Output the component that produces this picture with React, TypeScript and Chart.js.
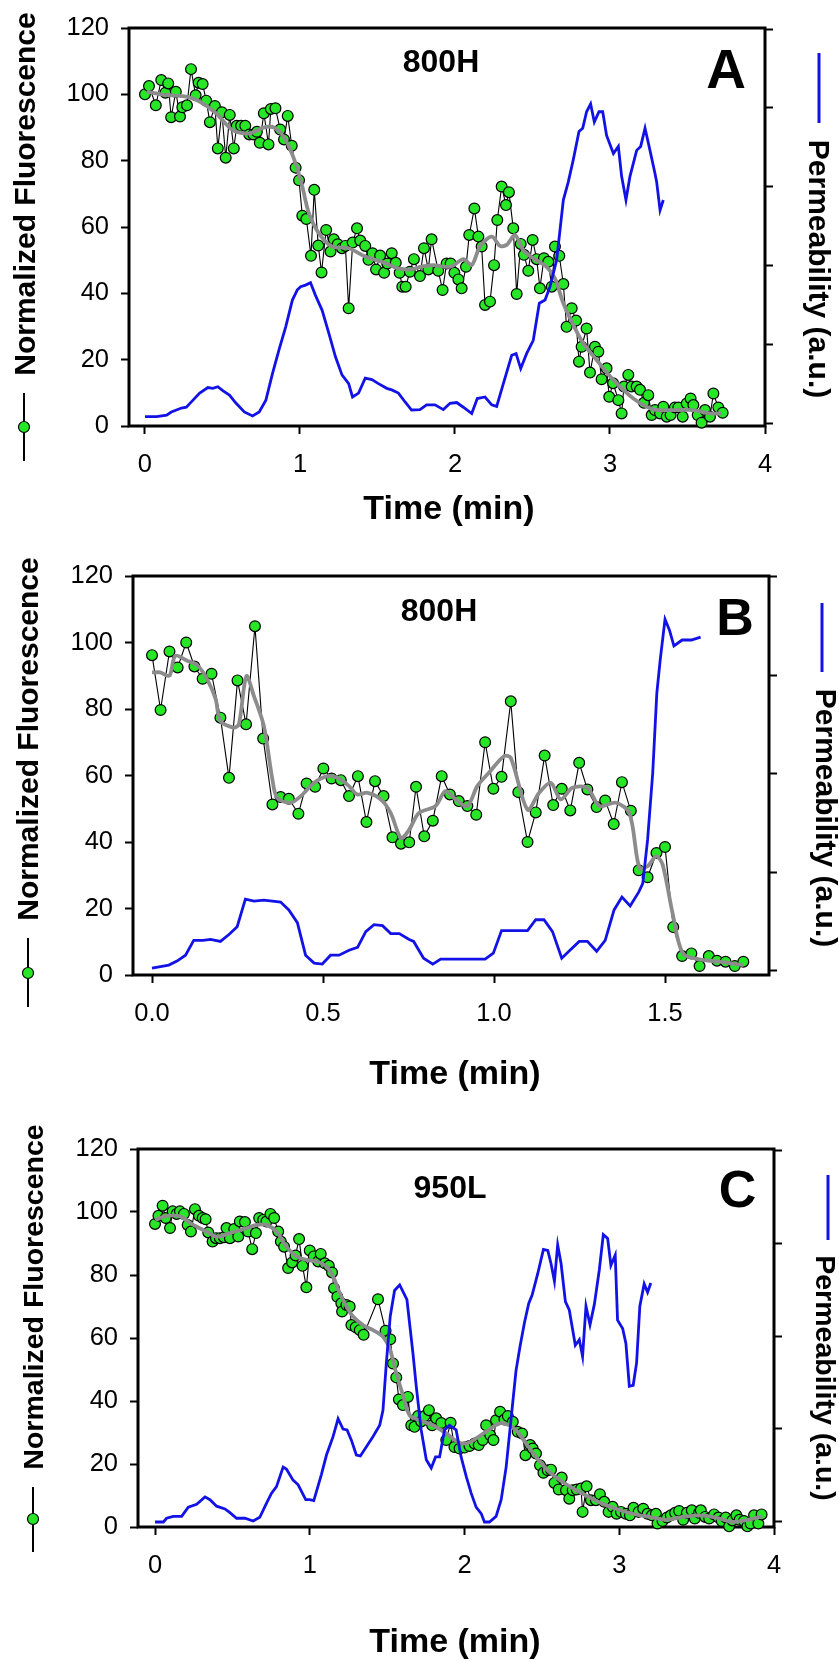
import React, { useEffect, useRef } from 'react';
import { Chart, registerables } from 'chart.js';

Chart.register(...registerables);

type Pt = [number, number];

const FONT = '"Liberation Sans", Arial, Helvetica, sans-serif';
const GREEN = '#26e626';
const GREY = '#8c8c8c';
const BLUE = '#1212e6';

// ---------- tick values / labels ----------
const yLeftTicks = [0, 20, 40, 60, 80, 100, 120];
const xTicksAC = [0, 1, 2, 3, 4];
const xLabelsAC = ['0', '1', '2', '3', '4'];
const xTicksB = [0, 0.5, 1, 1.5];
const xLabelsB = ['0.0', '0.5', '1.0', '1.5'];
const y2TicksA = [0, 1, 2, 3, 4, 5];
const y2TicksBC = [0, 1, 2, 3, 4];

// ---------- Panel A (800H) ----------
const fluorA: Pt[] = [[0,100],[0.026,102.5],[0.07,96.7],[0.105,104.3],[0.132,100.5],[0.15,103.3],[0.169,93.1],[0.199,100.8],[0.226,93.3],[0.241,96.1],[0.271,96.7],[0.297,107.6],[0.327,99.7],[0.346,103.5],[0.372,103.1],[0.395,98.1],[0.419,91.6],[0.451,96.5],[0.47,83.7],[0.496,94.6],[0.521,80.9],[0.547,93.8],[0.573,83.7],[0.592,90.5],[0.62,90.5],[0.647,90.5],[0.673,87.9],[0.699,87.9],[0.722,88.7],[0.741,85.4],[0.767,94.3],[0.797,84.9],[0.812,95.6],[0.842,95.8],[0.872,89.4],[0.897,86.4],[0.921,93.5],[0.947,84.5],[0.972,77.9],[0.994,74.1],[1.015,63.4],[1.041,62.4],[1.071,51.3],[1.092,71.2],[1.118,54.4],[1.139,46.3],[1.169,59.1],[1.197,52.6],[1.218,56.3],[1.244,54.8],[1.271,53.6],[1.293,54.3],[1.314,35.5],[1.34,55.3],[1.368,59.6],[1.389,55.9],[1.421,54.3],[1.442,50.1],[1.468,52.1],[1.491,47.2],[1.517,51.4],[1.543,46.2],[1.564,49],[1.592,52.1],[1.618,49.2],[1.643,46.2],[1.66,42],[1.682,42],[1.709,46.5],[1.735,50.3],[1.774,45.2],[1.8,53.6],[1.828,47.2],[1.849,56.3],[1.892,46.8],[1.92,41],[1.946,49],[1.972,49],[1.996,46.2],[2.022,44.2],[2.043,41.5],[2.071,48],[2.092,57.6],[2.125,65.6],[2.151,57.1],[2.172,54.1],[2.194,36.5],[2.226,37.5],[2.252,48.5],[2.273,62.1],[2.301,72.2],[2.329,66.6],[2.348,70.5],[2.376,59.6],[2.398,39.8],[2.424,54.9],[2.445,51.6],[2.473,46.8],[2.501,56.1],[2.527,50.3],[2.548,41.5],[2.574,50.6],[2.602,49.5],[2.624,42],[2.645,54.1],[2.673,51.3],[2.699,42.8],[2.72,29.9],[2.753,35.5],[2.781,31.8],[2.8,19.4],[2.817,23.9],[2.849,29.4],[2.871,16.1],[2.903,23.9],[2.925,22.4],[2.946,14.1],[2.978,17.4],[2.995,8.8],[3.02,12.9],[3.054,7.8],[3.075,3.8],[3.09,11.9],[3.118,15.4],[3.14,11.9],[3.172,11.9],[3.194,10.9],[3.219,7],[3.247,9.3],[3.269,3.3],[3.29,4.8],[3.323,3.8],[3.344,5.8],[3.366,2.8],[3.391,3.3],[3.419,5.6],[3.441,5.6],[3.469,2.8],[3.495,6.8],[3.52,8.3],[3.538,6.3],[3.566,3.3],[3.591,1],[3.613,4.8],[3.645,2.8],[3.667,9.8],[3.699,5.6],[3.727,4]];
const smoothA: Pt[] = [[0.011,100.8],[0.139,99.8],[0.267,99.3],[0.353,97.8],[0.459,94.3],[0.566,89.2],[0.673,88.2],[0.78,90.2],[0.844,89.7],[0.908,86.2],[0.972,79.2],[1.015,72.2],[1.058,64.1],[1.122,58.1],[1.207,54.1],[1.314,53.6],[1.421,51.1],[1.528,49.5],[1.635,47.5],[1.72,47.2],[1.774,48],[1.86,48.5],[1.968,48],[2.054,50.3],[2.108,48.5],[2.161,54.1],[2.237,57.1],[2.29,54.3],[2.333,54.6],[2.387,57.6],[2.44,53],[2.505,50.6],[2.591,48],[2.645,44.5],[2.699,37],[2.763,30.5],[2.828,24.9],[2.914,19.9],[3.022,13.9],[3.151,8.3],[3.28,5],[3.409,4.8],[3.538,4.8],[3.645,3.8],[3.72,3.8]];
const permA: Pt[] = [[0,0.08],[0.075,0.08],[0.14,0.1],[0.17,0.14],[0.203,0.165],[0.235,0.19],[0.267,0.2],[0.31,0.29],[0.353,0.38],[0.406,0.45],[0.438,0.44],[0.47,0.46],[0.502,0.41],[0.545,0.355],[0.588,0.25],[0.641,0.14],[0.694,0.09],[0.737,0.14],[0.78,0.29],[0.823,0.63],[0.865,0.93],[0.908,1.22],[0.951,1.56],[0.983,1.69],[1.004,1.73],[1.036,1.75],[1.068,1.78],[1.1,1.62],[1.143,1.43],[1.186,1.14],[1.229,0.84],[1.271,0.61],[1.314,0.5],[1.339,0.33],[1.378,0.38],[1.421,0.57],[1.464,0.55],[1.506,0.5],[1.56,0.44],[1.592,0.42],[1.635,0.38],[1.677,0.27],[1.72,0.165],[1.774,0.17],[1.817,0.23],[1.871,0.23],[1.925,0.17],[1.968,0.25],[2.011,0.26],[2.054,0.2],[2.108,0.12],[2.144,0.31],[2.194,0.33],[2.237,0.23],[2.269,0.21],[2.312,0.5],[2.366,0.86],[2.394,0.88],[2.424,0.69],[2.462,0.88],[2.505,1.05],[2.544,1.52],[2.581,1.56],[2.613,1.73],[2.656,2.07],[2.699,2.83],[2.731,3.06],[2.763,3.34],[2.8,3.7],[2.824,3.74],[2.849,3.95],[2.875,4.05],[2.899,3.82],[2.929,3.95],[2.953,3.95],[2.978,3.65],[3.022,3.42],[3.054,3.51],[3.075,3.13],[3.103,2.83],[3.129,3.13],[3.172,3.46],[3.198,3.51],[3.226,3.74],[3.258,3.46],[3.29,3.17],[3.301,3.06],[3.323,2.7],[3.344,2.83]];

// ---------- Panel B (800H) ----------
const fluorB: Pt[] = [[0,96.2],[0.025,79.7],[0.051,97.3],[0.075,92.5],[0.1,100],[0.124,92.8],[0.148,89.1],[0.174,90.6],[0.2,77.4],[0.225,59.3],[0.25,88.6],[0.275,75.4],[0.301,104.9],[0.325,71.1],[0.352,51.3],[0.376,53.5],[0.4,53],[0.428,48.5],[0.452,57.6],[0.477,56.6],[0.501,62.1],[0.525,59.1],[0.552,58.6],[0.576,53.8],[0.602,59.8],[0.627,46],[0.652,58.3],[0.677,53.8],[0.703,41.4],[0.728,39.5],[0.752,39.9],[0.772,56.6],[0.796,41.7],[0.821,46.4],[0.847,59.8],[0.871,54.3],[0.897,52.3],[0.922,50.8],[0.948,48.2],[0.974,70],[0.998,56],[1.022,59.6],[1.049,82.3],[1.071,55],[1.098,40],[1.122,48.9],[1.148,66],[1.173,51.1],[1.198,56],[1.223,49.5],[1.249,63.8],[1.273,55.8],[1.3,50.5],[1.325,52.5],[1.35,45.4],[1.374,58],[1.4,49.4],[1.423,31.5],[1.449,29.4],[1.475,36.7],[1.5,38.5],[1.524,14.4],[1.55,5.7],[1.577,6.5],[1.601,2.7],[1.628,5.7],[1.652,4.3],[1.677,4],[1.704,2.7],[1.729,4]];
const smoothB: Pt[] = [[0,91],[0.024,91],[0.051,90],[0.068,96],[0.103,94.5],[0.132,93.2],[0.161,89],[0.186,83],[0.2,76.4],[0.239,74.4],[0.254,75.4],[0.276,89.9],[0.298,83.9],[0.327,74.9],[0.352,58.8],[0.366,53.3],[0.405,51.8],[0.435,53.8],[0.474,57.8],[0.513,59.8],[0.542,59.3],[0.576,56.8],[0.6,54.3],[0.63,54.8],[0.669,52.8],[0.698,48.7],[0.728,41.2],[0.752,43.7],[0.78,48.7],[0.829,50.8],[0.858,55.3],[0.888,52.8],[0.922,50.8],[0.951,56.8],[0.985,60.8],[1.029,65.8],[1.049,65.3],[1.098,49.7],[1.132,54.8],[1.166,57.8],[1.195,52.8],[1.229,56.3],[1.273,56.3],[1.308,50.8],[1.356,51.8],[1.396,48.7],[1.425,32.2],[1.449,32.7],[1.474,35.7],[1.493,33.2],[1.522,18.6],[1.552,6.5],[1.601,4.7],[1.659,4],[1.729,3]];
const permB: Pt[] = [[0,0.03],[0.049,0.06],[0.073,0.1],[0.098,0.16],[0.122,0.31],[0.149,0.31],[0.171,0.32],[0.2,0.3],[0.225,0.37],[0.249,0.45],[0.273,0.73],[0.298,0.71],[0.327,0.72],[0.352,0.71],[0.376,0.7],[0.4,0.62],[0.425,0.49],[0.449,0.16],[0.474,0.08],[0.498,0.07],[0.522,0.16],[0.547,0.16],[0.576,0.21],[0.601,0.24],[0.625,0.4],[0.649,0.47],[0.674,0.46],[0.698,0.38],[0.723,0.38],[0.752,0.32],[0.765,0.3],[0.794,0.13],[0.821,0.07],[0.844,0.12],[0.868,0.12],[0.917,0.12],[0.974,0.12],[0.998,0.18],[1.022,0.41],[1.049,0.41],[1.098,0.41],[1.122,0.52],[1.146,0.52],[1.171,0.4],[1.198,0.13],[1.222,0.21],[1.249,0.3],[1.273,0.3],[1.3,0.2],[1.325,0.31],[1.351,0.62],[1.374,0.75],[1.398,0.66],[1.423,0.8],[1.435,0.89],[1.449,1.33],[1.464,2.01],[1.476,2.82],[1.486,3.16],[1.5,3.57],[1.513,3.46],[1.526,3.3],[1.55,3.36],[1.577,3.36],[1.604,3.39]];

// ---------- Panel C (950L) ----------
const fluorC: Pt[] = [[0,96.2],[0.022,98.8],[0.049,102],[0.069,98.1],[0.097,94.9],[0.114,100.2],[0.14,99.4],[0.161,100.2],[0.187,99.4],[0.211,95.9],[0.232,93.8],[0.258,100.9],[0.284,98.8],[0.308,98.1],[0.327,97.7],[0.344,93.5],[0.372,90.6],[0.394,91.7],[0.419,91.7],[0.445,92],[0.462,94.9],[0.484,91.7],[0.512,94.6],[0.538,92.2],[0.548,97],[0.581,96.8],[0.602,93.8],[0.628,88.2],[0.652,93.3],[0.673,98.1],[0.699,97.5],[0.72,97],[0.746,99.4],[0.77,98.1],[0.796,93.8],[0.813,90.6],[0.834,89],[0.86,82.2],[0.886,84],[0.908,86.2],[0.931,91.4],[0.953,82.9],[0.978,76.1],[1.0,87.8],[1.026,85.9],[1.054,84.3],[1.071,86.7],[1.097,83.7],[1.123,82.9],[1.144,80.8],[1.157,75.8],[1.178,73.1],[1.204,71],[1.209,68.4],[1.237,70.5],[1.258,70],[1.269,64.1],[1.297,63.4],[1.323,62.5],[1.348,61],[1.441,72.3],[1.49,62.3],[1.52,59.6],[1.538,51.9],[1.559,47.5],[1.576,40.5],[1.602,38.7],[1.634,41.3],[1.656,32.3],[1.677,31.8],[1.699,35.2],[1.72,33.5],[1.742,35.2],[1.77,37.1],[1.791,32.3],[1.817,34.5],[1.85,33],[1.882,27.6],[1.91,33.1],[1.935,25.4],[1.968,24.9],[2.0,25.2],[2.032,25.7],[2.065,26.5],[2.092,26],[2.118,27.6],[2.14,32.3],[2.166,29.2],[2.187,27.6],[2.204,33.9],[2.23,36.6],[2.258,34.1],[2.28,35.2],[2.312,33.4],[2.344,30.2],[2.372,29.7],[2.394,22.8],[2.424,26],[2.441,24.9],[2.462,23.3],[2.488,19.6],[2.51,17.2],[2.538,18],[2.559,18.2],[2.581,14],[2.609,11.9],[2.628,15.7],[2.656,11.7],[2.677,9],[2.699,11.7],[2.725,11.9],[2.753,12.2],[2.763,4.8],[2.789,12.9],[2.817,8.5],[2.849,8.5],[2.875,10.4],[2.903,8],[2.931,4.8],[2.957,6.4],[2.983,4.2],[3.011,4.8],[3.043,4.2],[3.069,3.7],[3.092,6.1],[3.125,4.8],[3.155,5.8],[3.183,4.2],[3.211,3.7],[3.237,4.2],[3.247,1.1],[3.28,1.9],[3.308,3],[3.333,3.7],[3.361,4.5],[3.387,5.1],[3.413,2.3],[3.437,4.5],[3.469,5.3],[3.488,2.7],[3.516,4.5],[3.527,5.3],[3.555,3.2],[3.581,2.7],[3.613,4],[3.641,3],[3.662,1.9],[3.688,3],[3.71,0.2],[3.731,2.1],[3.757,3.7],[3.778,2.3],[3.806,1.9],[3.828,0.2],[3.849,1.1],[3.871,3.7],[3.899,1.1],[3.92,4]];
const smoothC: Pt[] = [[0,97.5],[0.075,98.8],[0.161,98.6],[0.247,95.9],[0.333,93.8],[0.398,92.2],[0.484,93.3],[0.591,94.9],[0.656,95.9],[0.72,95.9],[0.785,93.8],[0.849,89],[0.914,85.9],[0.978,84.8],[1.043,84.3],[1.108,82.7],[1.151,79.5],[1.194,74.2],[1.237,70],[1.28,66.8],[1.344,64.1],[1.409,62.5],[1.473,60.4],[1.516,56.7],[1.559,48.8],[1.602,41.9],[1.645,35.5],[1.71,33.9],[1.796,32.3],[1.882,29.7],[1.957,27],[2.011,26.5],[2.075,28.1],[2.151,30.7],[2.226,32.9],[2.29,32.3],[2.344,30.2],[2.398,26.5],[2.462,22.3],[2.548,17.5],[2.634,14.3],[2.72,11.7],[2.806,9.5],[2.892,7.4],[2.978,5.8],[3.086,4.2],[3.194,3.2],[3.301,2.3],[3.409,3.2],[3.516,3.7],[3.624,3],[3.731,1.6],[3.817,2.1],[3.925,3.4]];
const permC: Pt[] = [[0,0],[0.054,0],[0.075,0.04],[0.118,0.06],[0.172,0.06],[0.215,0.16],[0.269,0.19],[0.323,0.27],[0.355,0.24],[0.398,0.17],[0.452,0.14],[0.484,0.1],[0.527,0.04],[0.581,0.04],[0.634,0.01],[0.677,0.05],[0.72,0.2],[0.753,0.31],[0.785,0.38],[0.828,0.59],[0.849,0.57],[0.892,0.45],[0.925,0.4],[0.974,0.24],[1.0,0.24],[1.026,0.23],[1.075,0.51],[1.108,0.72],[1.151,0.92],[1.183,1.11],[1.215,1.0],[1.241,0.99],[1.269,0.88],[1.301,0.72],[1.327,0.71],[1.366,0.81],[1.409,0.92],[1.452,1.04],[1.473,1.2],[1.495,1.71],[1.52,2.21],[1.548,2.49],[1.581,2.55],[1.628,2.39],[1.667,1.81],[1.688,1.46],[1.72,0.99],[1.753,0.67],[1.785,0.58],[1.813,0.7],[1.839,0.7],[1.871,0.99],[1.903,1.04],[1.946,0.99],[1.978,0.7],[2.011,0.49],[2.043,0.31],[2.075,0.16],[2.108,0.09],[2.129,0],[2.161,0],[2.204,0.06],[2.237,0.24],[2.269,0.59],[2.301,1.11],[2.333,1.63],[2.359,1.89],[2.387,2.14],[2.415,2.35],[2.437,2.44],[2.473,2.67],[2.51,2.93],[2.538,2.92],[2.559,2.78],[2.581,2.59],[2.602,2.98],[2.624,2.78],[2.652,2.37],[2.677,2.28],[2.716,1.9],[2.742,1.96],[2.763,1.78],[2.785,2.32],[2.811,2.12],[2.839,2.34],[2.871,2.71],[2.897,3.09],[2.925,3.05],[2.946,2.76],[2.974,2.87],[2.989,2.17],[3.022,2.08],[3.043,1.92],[3.065,1.46],[3.09,1.47],[3.112,1.71],[3.133,2.32],[3.161,2.56],[3.183,2.47],[3.204,2.57]];

interface PanelCfg {
  canvasTop: number;
  canvasH: number;
  area: { left: number; top: number; right: number; bottom: number };
  xMin: number; xMax: number; xTicks: number[]; xLabels: string[];
  y2Min: number; y2Max: number; y2Ticks: number[];
  fluor: Pt[]; smooth: Pt[]; perm: Pt[];
  sample: string; letter: string;
  leftTitle: { bx: number; cy: number; size: number };
  legendL: { x: number; y1: number; y2: number; cy: number };
  rightTitle: { bx: number; cy: number; size: number };
  legendR: { x: number; y1: number; y2: number };
  time: { cx: number; cy: number };
  samplePos: { cx: number; cy: number };
  letterPos: { cx: number; cy: number; size: number };
}

const panels: PanelCfg[] = [
  {
    canvasTop: 0, canvasH: 545,
    area: { left: 129, top: 28, right: 765, bottom: 426 },
    xMin: -0.103, xMax: 4.0, xTicks: xTicksAC, xLabels: xLabelsAC,
    y2Min: -0.038, y2Max: 5.013, y2Ticks: y2TicksA,
    fluor: fluorA, smooth: smoothA, perm: permA,
    sample: '800H', letter: 'A',
    leftTitle: { bx: 35, cy: 194, size: 30 },
    legendL: { x: 24, y1: 393, y2: 461, cy: 427 },
    rightTitle: { bx: 809, cy: 269, size: 30 },
    legendR: { x: 819, y1: 53, y2: 123 },
    time: { cx: 449, cy: 507 },
    samplePos: { cx: 441, cy: 61 },
    letterPos: { cx: 726, cy: 68, size: 55 },
  },
  {
    canvasTop: 545, canvasH: 555,
    area: { left: 133, top: 576, right: 769, bottom: 975 },
    xMin: -0.0556, xMax: 1.804, xTicks: xTicksB, xLabels: xLabelsB,
    y2Min: -0.041, y2Max: 4.01, y2Ticks: y2TicksBC,
    fluor: fluorB, smooth: smoothB, perm: permB,
    sample: '800H', letter: 'B',
    leftTitle: { bx: 38, cy: 739, size: 30 },
    legendL: { x: 28, y1: 938, y2: 1007, cy: 973 },
    rightTitle: { bx: 816, cy: 818, size: 30 },
    legendR: { x: 822, y1: 603, y2: 672 },
    time: { cx: 455, cy: 1072 },
    samplePos: { cx: 439, cy: 610 },
    letterPos: { cx: 735, cy: 616.5, size: 52 },
  },
  {
    canvasTop: 1100, canvasH: 561,
    area: { left: 138, top: 1149, right: 774, bottom: 1527 },
    xMin: -0.11, xMax: 4.0, xTicks: xTicksAC, xLabels: xLabelsAC,
    y2Min: -0.054, y2Max: 4.011, y2Ticks: y2TicksBC,
    fluor: fluorC, smooth: smoothC, perm: permC,
    sample: '950L', letter: 'C',
    leftTitle: { bx: 43, cy: 1297, size: 28.5 },
    legendL: { x: 33, y1: 1487, y2: 1552, cy: 1519 },
    rightTitle: { bx: 816, cy: 1378, size: 28.5 },
    legendR: { x: 828, y1: 1175, y2: 1240 },
    time: { cx: 455, cy: 1640 },
    samplePos: { cx: 450, cy: 1187 },
    letterPos: { cx: 737.5, cy: 1188, size: 52 },
  },
];

const toXY = (arr: Pt[]) => arr.map(([x, y]) => ({ x, y }));

function Panel({ cfg }: { cfg: PanelCfg }) {
  const ref = useRef<HTMLCanvasElement>(null);

  useEffect(() => {
    const canvas = ref.current;
    if (!canvas) return;
    const o = cfg.canvasTop;
    const a = cfg.area;

    const decor = {
      id: 'decor',
      beforeDatasetsDraw(chart: any) {
        const { ctx, chartArea } = chart;
        ctx.save();
        ctx.strokeStyle = '#000';
        ctx.lineWidth = 3;
        ctx.strokeRect(chartArea.left, chartArea.top, chartArea.right - chartArea.left, chartArea.bottom - chartArea.top);
        ctx.restore();
      },
      afterDraw(chart: any) {
        const ctx: CanvasRenderingContext2D = chart.ctx;
        ctx.save();
        ctx.fillStyle = '#000';
        ctx.textAlign = 'center';
        ctx.textBaseline = 'alphabetic';

        // left title
        ctx.save();
        ctx.font = `bold ${cfg.leftTitle.size}px ${FONT}`;
        ctx.translate(cfg.leftTitle.bx, cfg.leftTitle.cy - o);
        ctx.rotate(-Math.PI / 2);
        ctx.fillText('Normalized Fluorescence', 0, 0);
        ctx.restore();

        // left legend symbol
        ctx.save();
        ctx.strokeStyle = '#000';
        ctx.lineWidth = 2;
        ctx.beginPath();
        ctx.moveTo(cfg.legendL.x, cfg.legendL.y1 - o);
        ctx.lineTo(cfg.legendL.x, cfg.legendL.y2 - o);
        ctx.stroke();
        ctx.beginPath();
        ctx.arc(cfg.legendL.x, cfg.legendL.cy - o, 5.5, 0, Math.PI * 2);
        ctx.fillStyle = GREEN;
        ctx.fill();
        ctx.lineWidth = 1.2;
        ctx.stroke();
        ctx.restore();

        // right title
        ctx.save();
        ctx.font = `bold ${cfg.rightTitle.size}px ${FONT}`;
        ctx.translate(cfg.rightTitle.bx, cfg.rightTitle.cy - o);
        ctx.rotate(Math.PI / 2);
        ctx.fillText('Permeability (a.u.)', 0, 0);
        ctx.restore();

        // right legend symbol
        ctx.save();
        ctx.strokeStyle = BLUE;
        ctx.lineWidth = 3;
        ctx.beginPath();
        ctx.moveTo(cfg.legendR.x, cfg.legendR.y1 - o);
        ctx.lineTo(cfg.legendR.x, cfg.legendR.y2 - o);
        ctx.stroke();
        ctx.restore();

        // x title
        ctx.font = `bold 34px ${FONT}`;
        ctx.fillText('Time (min)', cfg.time.cx, cfg.time.cy - o + 0.358 * 34);

        // sample name
        ctx.font = `bold 32px ${FONT}`;
        ctx.fillText(cfg.sample, cfg.samplePos.cx, cfg.samplePos.cy - o + 0.358 * 32);

        // panel letter
        const ls = cfg.letterPos.size;
        ctx.font = `bold ${ls}px ${FONT}`;
        ctx.fillText(cfg.letter, cfg.letterPos.cx, cfg.letterPos.cy - o + 0.358 * ls);

        ctx.restore();
      },
    };

    const tickFont = { family: FONT, size: 25.5 };
    const gridOpts = {
      display: true,
      drawOnChartArea: false,
      drawTicks: true,
      tickLength: 8,
      tickWidth: 2,
      tickColor: '#000',
    };

    const chart = new Chart(canvas, {
      type: 'line',
      data: {
        datasets: [
          {
            label: 'Permeability',
            data: toXY(cfg.perm),
            yAxisID: 'y2',
            borderColor: BLUE,
            borderWidth: 2.8,
            pointRadius: 0,
            tension: 0,
            fill: false,
            order: 0,
          },
          {
            label: 'Smoothed',
            data: toXY(cfg.smooth),
            yAxisID: 'y',
            borderColor: GREY,
            borderWidth: 3.8,
            pointRadius: 0,
            tension: 0.3,
            fill: false,
            order: 1,
          },
          {
            label: 'Normalized Fluorescence',
            data: toXY(cfg.fluor),
            yAxisID: 'y',
            borderColor: '#000',
            borderWidth: 1.1,
            pointRadius: 5.4,
            pointBackgroundColor: GREEN,
            pointBorderColor: '#000',
            pointBorderWidth: 1.2,
            tension: 0,
            fill: false,
            clip: false,
            order: 2,
          } as any,
        ],
      },
      options: {
        animation: false,
        responsive: false,
        devicePixelRatio: 1,
        events: [],
        layout: { padding: { top: a.top - o, left: 0, right: 0, bottom: 0 } },
        plugins: { legend: { display: false }, tooltip: { enabled: false } },
        scales: {
          x: {
            type: 'linear',
            position: 'bottom',
            min: cfg.xMin,
            max: cfg.xMax,
            afterBuildTicks: (s: any) => { s.ticks = cfg.xTicks.map((v) => ({ value: v })); },
            afterFit: (s: any) => { s.height = cfg.canvasH - (a.bottom - o); },
            ticks: {
              callback: (_v: any, i: number) => cfg.xLabels[i],
              font: tickFont,
              color: '#000',
              padding: 16,
              maxRotation: 0,
              autoSkip: false,
            },
            grid: gridOpts,
            border: { display: false },
          },
          y: {
            type: 'linear',
            position: 'left',
            min: 0,
            max: 120,
            afterBuildTicks: (s: any) => { s.ticks = yLeftTicks.map((v) => ({ value: v })); },
            afterFit: (s: any) => { s.width = a.left; },
            ticks: { font: tickFont, color: '#000', padding: 12, autoSkip: false },
            grid: gridOpts,
            border: { display: false },
          },
          y2: {
            type: 'linear',
            position: 'right',
            min: cfg.y2Min,
            max: cfg.y2Max,
            afterBuildTicks: (s: any) => { s.ticks = cfg.y2Ticks.map((v) => ({ value: v })); },
            afterFit: (s: any) => { s.width = 839 - a.right; },
            ticks: { display: false },
            grid: gridOpts,
            border: { display: false },
          },
        },
      } as any,
      plugins: [decor],
    });

    return () => chart.destroy();
  }, [cfg]);

  return (
    <canvas
      ref={ref}
      width={839}
      height={cfg.canvasH}
      style={{ position: 'absolute', left: 0, top: cfg.canvasTop, width: 839, height: cfg.canvasH, display: 'block' }}
    />
  );
}

export default function App() {
  return (
    <div style={{ position: 'absolute', left: 0, top: 0, width: 839, height: 1661, background: '#fff' }}>
      {panels.map((p) => (
        <Panel key={p.letter} cfg={p} />
      ))}
    </div>
  );
}
